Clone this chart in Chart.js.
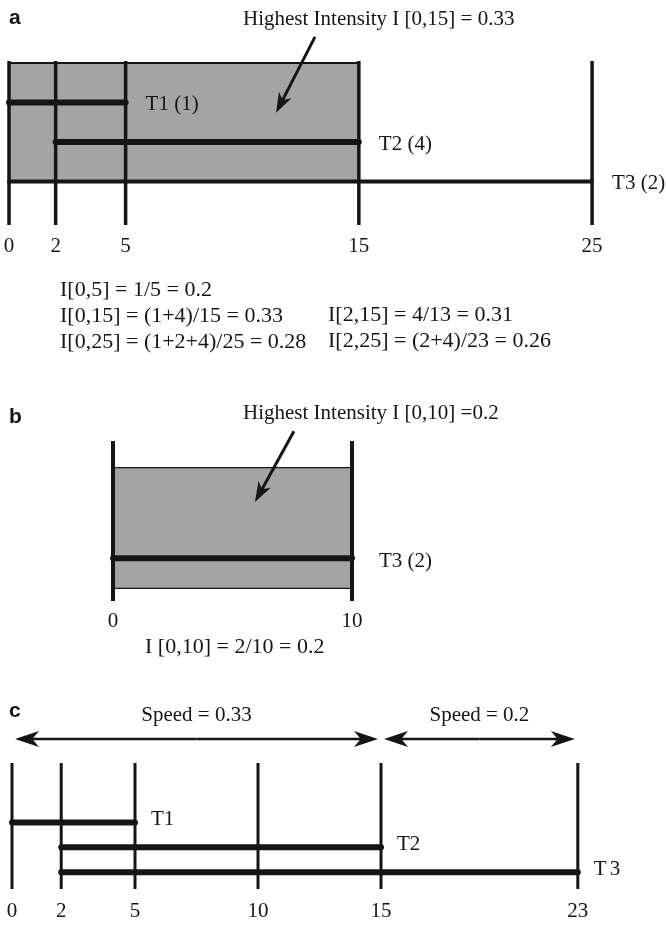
<!DOCTYPE html>
<html>
<head>
<meta charset="utf-8">
<script src="https://cdn.jsdelivr.net/npm/chart.js@4.4.1/dist/chart.umd.min.js"></script>
<style>
  html, body { margin: 0; padding: 0; background: #fff; overflow: hidden; }
  #page { position: relative; width: 666px; height: 925px; overflow: hidden; }
  canvas { position: absolute; left: 0; }
</style>
</head>
<body>
<div id="page">
  <canvas id="panelA" width="666" height="370" style="top:0px"></canvas>
  <canvas id="panelB" width="666" height="290" style="top:370px"></canvas>
  <canvas id="panelC" width="666" height="280" style="top:660px"></canvas>
</div>
<script>
// ---- panel a: three tasks, best window [0,15]
const aTicks = [0, 2, 5, 15, 25];
const aTracks = ['T1', 'T2', 'T3'];
const aStart = [0, 2, 0];
const aEnd = [5, 15, 25];
const aCount = [1, 4, 2];
const aRow = [3, 2, 1];
const aBest = [0, 15];
const aFormulasLeft = ['I[0,5] = 1/5 = 0.2', 'I[0,15] = (1+4)/15 = 0.33', 'I[0,25] = (1+2+4)/25 = 0.28'];
const aFormulasRight = ['I[2,15] = 4/13 = 0.31', 'I[2,25] = (2+4)/23 = 0.26'];

// ---- panel b: what is left after removing the window
const bTicks = [0, 10];
const bTracks = ['T3'];
const bStart = [0];
const bEnd = [10];
const bCount = [2];
const bRow = [1];
const bBest = [0, 10];

// ---- panel c: resulting speeds
const cTicks = [0, 2, 5, 10, 15, 23];
const cTracks = ['T1', 'T2', 'T3'];
const cStart = [0, 2, 2];
const cEnd = [5, 15, 23];
const cRow = [3, 2, 1];
const cSpeedFrom = [0, 15];
const cSpeedTo = [15, 23];
const cSpeed = ['0.33', '0.2'];

const INK = '#151515';
const GREY = '#a3a4a3';
const SERIF = '"Liberation Serif", "Times New Roman", serif';
const TXT = '21px ' + SERIF;
const FORMULA = '22px ' + SERIF;
const LETTER = 'bold 21px "Liberation Sans", Arial, sans-serif';

function text(ctx, s, x, y, opt) {
  opt = opt || {};
  ctx.save();
  ctx.font = opt.font || TXT;
  ctx.fillStyle = INK;
  ctx.textAlign = opt.align || 'left';
  ctx.textBaseline = 'middle';
  if (opt.spacing) ctx.letterSpacing = opt.spacing;
  ctx.fillText(s, x, y);
  ctx.restore();
}

function arrow(ctx, x0, y0, x1, y1, w, len, half) {
  const a = Math.atan2(y1 - y0, x1 - x0);
  ctx.save();
  ctx.strokeStyle = INK;
  ctx.fillStyle = INK;
  ctx.lineWidth = w;
  ctx.beginPath();
  ctx.moveTo(x0, y0);
  ctx.lineTo(x1 - Math.cos(a) * len * 0.6, y1 - Math.sin(a) * len * 0.6);
  ctx.stroke();
  ctx.translate(x1, y1);
  ctx.rotate(a);
  ctx.beginPath();
  ctx.moveTo(0, 0);
  ctx.lineTo(-len, -half);
  ctx.lineTo(-len * 0.72, 0);
  ctx.lineTo(-len, half);
  ctx.closePath();
  ctx.fill();
  ctx.restore();
}

function seg(x0, y0, x1, y1, w, cap, order) {
  return {
    data: [{ x: x0, y: y0 }, { x: x1, y: y1 }],
    showLine: true, pointRadius: 0, borderColor: INK, borderWidth: w,
    borderCapStyle: cap, order: order
  };
}

function panel(id, o) {
  const ds = [];
  // shaded window
  ds.push({
    data: [{ x: o.box[0], y: o.boxTop }, { x: o.box[1], y: o.boxTop }],
    showLine: true, pointRadius: 0, fill: { value: o.boxBottom },
    backgroundColor: GREY, borderColor: INK, borderWidth: o.edge, order: 9
  });
  if (o.bottomEdge) ds.push(seg(o.box[0], o.boxBottom, o.box[1], o.boxBottom, o.edge, 'butt', 8));
  o.ticks.forEach(t => ds.push(seg(t, o.yMin, t, o.yMax, o.vw, 'butt', 3)));
  o.starts.forEach((s, i) => ds.push(seg(s, o.rows[i], o.ends[i], o.rows[i], o.tw[i], 'round', 1)));

  new Chart(document.getElementById(id), {
    type: 'scatter',
    data: { datasets: ds },
    options: {
      responsive: false,
      animation: false,
      events: [],
      layout: { padding: { top: o.top, bottom: o.bottom, left: 0, right: 0 } },
      plugins: { legend: { display: false }, tooltip: { enabled: false } },
      scales: {
        x: {
          type: 'linear', min: o.xMin, max: o.xMax, bounds: 'data',
          afterBuildTicks: s => { s.ticks = o.ticks.map(v => ({ value: v })); },
          afterFit: s => { s.paddingLeft = 0; s.paddingRight = 0; },
          grid: { display: false, drawTicks: false },
          border: { display: false },
          ticks: {
            padding: o.pad, color: INK, autoSkip: false, maxRotation: 0,
            font: { family: SERIF, size: 21, lineHeight: 1 },
            callback: v => String(v)
          }
        },
        y: { type: 'linear', display: false, min: o.yMin, max: o.yMax }
      }
    },
    plugins: [{ id: 'notes', afterDraw: c => o.notes(c.ctx, c.scales.x, c.scales.y) }]
  });
}

panel('panelA', {
  ticks: aTicks, starts: aStart, ends: aEnd, rows: aRow, tw: [6, 6, 4],
  box: aBest, boxTop: 4, boxBottom: 1, edge: 2, bottomEdge: false, vw: 3.5,
  xMin: -0.386, xMax: 28.17, yMin: -0.1, yMax: 4.05,
  top: 61, bottom: 102, pad: 11,
  notes: (ctx, x, y) => {
    text(ctx, 'a', 9, 18, { font: LETTER });
    text(ctx, 'Highest Intensity I [' + aBest.join(',') + '] = 0.33', 243, 19);
    arrow(ctx, x.getPixelForValue(13.12), y.getPixelForValue(4.66),
      x.getPixelForValue(11.45), y.getPixelForValue(2.74), 3, 20, 7);
    aTracks.forEach((t, i) => text(ctx, t + ' (' + aCount[i] + ')',
      x.getPixelForValue(aEnd[i]) + 20, y.getPixelForValue(aRow[i]) + 2));
    aFormulasLeft.forEach((f, i) => text(ctx, f, 60, 290 + i * 26, { font: FORMULA }));
    aFormulasRight.forEach((f, i) => text(ctx, f, 328, 315 + i * 26, { font: FORMULA }));
  }
});

panel('panelB', {
  ticks: bTicks, starts: bStart, ends: bEnd, rows: bRow, tw: [6],
  box: bBest, boxTop: 4, boxBottom: 0, edge: 1.2, bottomEdge: true, vw: 4,
  xMin: -4.728, xMax: 23.138, yMin: -0.42, yMax: 4.88,
  top: 71, bottom: 18, pad: 10,
  notes: (ctx, x, y) => {
    text(ctx, 'b', 9, 47, { font: LETTER });
    text(ctx, 'Highest Intensity I [' + bBest.join(',') + '] =0.2', 243, 43);
    arrow(ctx, x.getPixelForValue(7.57), y.getPixelForValue(5.2),
      x.getPixelForValue(5.94), y.getPixelForValue(2.86), 3, 20, 7);
    bTracks.forEach((t, i) => text(ctx, t + ' (' + bCount[i] + ')',
      x.getPixelForValue(bEnd[i]) + 27, y.getPixelForValue(bRow[i]) + 3));
    text(ctx, 'I [' + bBest.join(',') + '] = 2/10 = 0.2', 145, 277, { font: FORMULA });
  }
});

panel('panelC', {
  ticks: cTicks, starts: cStart, ends: cEnd, rows: cRow, tw: [6, 6, 6],
  box: [0, 0], boxTop: 0, boxBottom: 0, edge: 0, bottomEdge: false, vw: 3,
  xMin: -0.488, xMax: 26.585, yMin: 0.32, yMax: 5.4,
  top: 103, bottom: 6, pad: 12,
  notes: (ctx, x, y) => {
    text(ctx, 'c', 9, 51, { font: LETTER });
    cSpeed.forEach((s, i) => {
      const x0 = x.getPixelForValue(cSpeedFrom[i]) + 3;
      const x1 = x.getPixelForValue(cSpeedTo[i]) - 3;
      const mid = (x0 + x1) / 2;
      text(ctx, 'Speed = ' + s, mid, 55, { align: 'center' });
      arrow(ctx, mid, 79, x0, 79, 2.5, 24, 8);
      arrow(ctx, mid, 79, x1, 79, 2.5, 24, 8);
    });
    cTracks.forEach((t, i) => text(ctx, t, x.getPixelForValue(cEnd[i]) + 16,
      y.getPixelForValue(cRow[i]) - 3, { spacing: i === 2 ? '3px' : '0px' }));
  }
});
</script>
</body>
</html>
